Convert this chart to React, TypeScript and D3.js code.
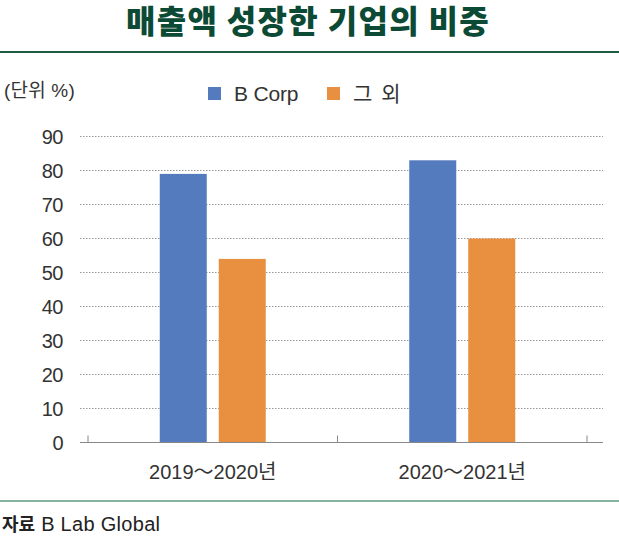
import React from "react";
import * as d3 from "d3";

const categories = ["2019～2020년", "2020～2021년"];
const seriesNames = ["B Corp", "그 외"];
const bCorpValues = [79, 83];
const otherValues = [54, 60];
const yTicks = [0, 10, 20, 30, 40, 50, 60, 70, 80, 90];
const colors = ["#547bbd", "#e88f40"];

const W = 619;
const H = 537;
const FONT = "'Liberation Sans', 'Noto Sans CJK KR', sans-serif";
const TITLE_FONT = "'Noto Sans CJK KR', sans-serif";

export default function App() {
  const x = d3.scaleBand<string>().domain(categories).range([88, 587]).paddingInner(0).paddingOuter(0);
  const y = d3.scaleLinear().domain([0, 90]).range([442.5, 136.5]);
  const barW = 47;
  const gap = 12;
  const groupW = barW * 2 + gap;
  const values = [bCorpValues, otherValues];

  return (
    <div style={{ position: "fixed", left: 0, top: 0 }}>
      <svg width={W} height={H} style={{ display: "block", background: "#fff" }} fontFamily={FONT}>
        <text
          x={308}
          y={33}
          textAnchor="middle"
          fontSize={32}
          fontWeight={900}
          fill="#0c4a35"
          letterSpacing={1.3}
          fontFamily={TITLE_FONT}
        >
          매출액 성장한 기업의 비중
        </text>
        <line x1={0} x2={W} y1={52} y2={52} stroke="#1f5c44" strokeWidth={2} />

        <text x={4} y={97} fontSize={19} fill="#333" letterSpacing={0.2}>
          (단위 %)
        </text>

        {seriesNames.map((s, i) => {
          const lx = i === 0 ? 208 : 327;
          return (
            <g key={s}>
              <rect x={lx} y={87} width={13} height={13} fill={colors[i]} />
              <text x={lx + 26} y={101} fontSize={21} fill="#333" letterSpacing={i === 0 ? -0.2 : 1.5}>
                {s}
              </text>
            </g>
          );
        })}

        {yTicks.map((t) => (
          <g key={t}>
            {t > 0 && (
              <line x1={80} x2={603} y1={y(t)} y2={y(t)} stroke="#999" strokeWidth={1} strokeDasharray="1.5 1.5" />
            )}
            <text x={63} y={y(t) + 7} textAnchor="end" fontSize={20} fill="#333" letterSpacing={-0.5}>
              {t}
            </text>
          </g>
        ))}

        {categories.map((c, ci) => {
          const start = (x(c) as number) + x.bandwidth() / 2 - groupW / 2;
          return (
            <g key={c}>
              {values.map((vals, si) => (
                <rect
                  key={si}
                  x={start + si * (barW + gap)}
                  y={y(vals[ci])}
                  width={barW}
                  height={y(0) - y(vals[ci])}
                  fill={colors[si]}
                />
              ))}
              <text
                x={(x(c) as number) + x.bandwidth() / 2}
                y={479}
                textAnchor="middle"
                fontSize={20}
                fill="#333"
                letterSpacing={0}
              >
                {c}
              </text>
            </g>
          );
        })}

        <line x1={80} x2={603} y1={y(0)} y2={y(0)} stroke="#888" strokeWidth={1.2} />
        {[...categories.map((c) => x(c) as number), 587].map((tx, i) => (
          <line key={i} x1={tx} x2={tx} y1={y(0) - 7} y2={y(0)} stroke="#888" strokeWidth={1} />
        ))}

        <line x1={0} x2={W} y1={501} y2={501} stroke="#5f9a82" strokeWidth={1.5} />
        <text x={2} y={531} fontSize={18} fill="#222">
          <tspan fontWeight={700} fontFamily={TITLE_FONT}>자료</tspan>
          <tspan dx={6} fontSize={20} letterSpacing={0.3}>B Lab Global</tspan>
        </text>
      </svg>
    </div>
  );
}
